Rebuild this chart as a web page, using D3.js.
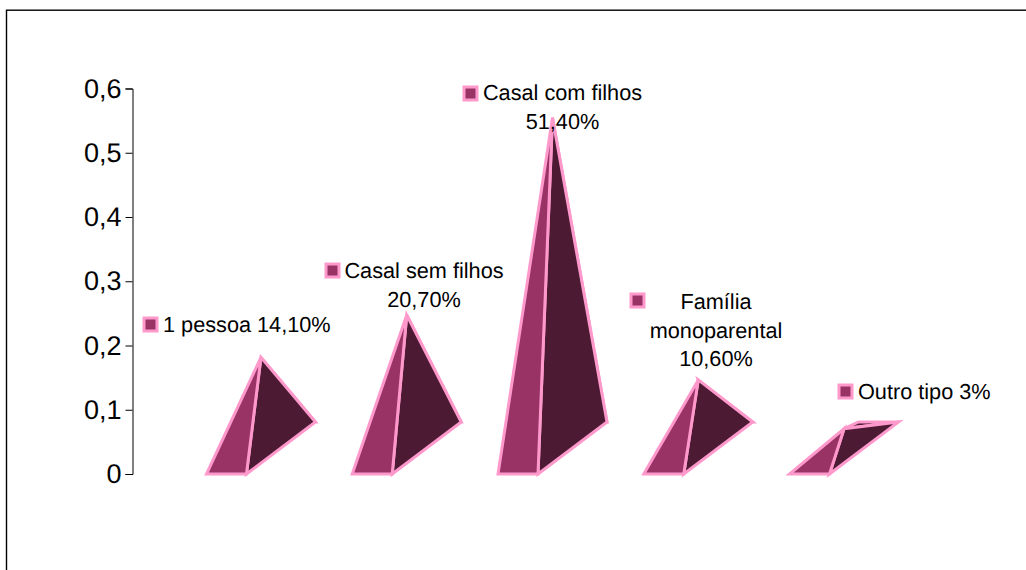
<!DOCTYPE html>
<html>
<head>
<meta charset="utf-8">
<script src="https://cdn.jsdelivr.net/npm/d3@7"></script>
<style>
  html, body { margin: 0; padding: 0; background: #fff; }
  svg { display: block; }
  text { font-family: "Liberation Sans", Arial, sans-serif; fill: #000; text-rendering: geometricPrecision; }
</style>
</head>
<body>
<div id="app"></div>
<script>
const categories = ['1 pessoa', 'Casal sem filhos', 'Casal com filhos', 'Família monoparental', 'Outro tipo'];
const values = [0.141, 0.207, 0.514, 0.106, 0.03];
const tickValues = [0, 0.1, 0.2, 0.3, 0.4, 0.5, 0.6];
const labelLines = [
  ['1 pessoa 14,10%'],
  ['Casal sem filhos', '20,70%'],
  ['Casal com filhos', '51,40%'],
  ['Família', 'monoparental', '10,60%'],
  ['Outro tipo 3%']
];

const pink = '#ff99cc';
const light = '#993366';
const dark = '#4d1a33';

const svg = d3.select('#app').append('svg')
    .attr('width', 1026)
    .attr('height', 570);

// outer frame, bottom and right edges fall off the page
svg.append('rect')
    .attr('x', 6.5)
    .attr('y', 10.2)
    .attr('width', 1030)
    .attr('height', 600)
    .attr('fill', 'none')
    .attr('stroke', '#000')
    .attr('stroke-width', 1.4);

const y = d3.scaleLinear()
    .domain([0, 0.6])
    .range([474, 88.5]);

const x = d3.scaleBand()
    .domain(categories)
    .range([132.5, 903.5])
    .paddingInner(0.7257)
    .paddingOuter(0.5075);

// 3d depth of the base
const depthX = 69;
const depthY = -52;

const g = svg.append('g');

const pyramids = g.selectAll('.pyramid')
    .data(categories.map((c, i) => ({ c, v: values[i] })))
    .enter().append('g')
      .attr('class', 'pyramid')
      .attr('fill', dark)
      .attr('stroke', pink)
      .attr('stroke-width', 3)
      .attr('stroke-linejoin', 'miter');

function corners(d) {
  const x0 = x(d.c);
  const x1 = x0 + x.bandwidth();
  const y0 = y(0);
  const apex = [(x0 + x1) / 2 + depthX / 2, y0 + depthY / 2 - (y(0) - y(d.v))];
  return { x0, x1, y0, apex };
}

const poly = pts => pts.map(p => p.join(',')).join(' ');

// back face, only shows when the apex is lower than the back edge
pyramids.append('polygon')
    .attr('points', d => {
      const k = corners(d);
      return poly([[k.x0 + depthX, k.y0 + depthY], [k.x1 + depthX, k.y0 + depthY], k.apex]);
    });

pyramids.append('polygon')
    .attr('points', d => {
      const k = corners(d);
      return poly([[k.x1, k.y0], [k.x1 + depthX, k.y0 + depthY], k.apex]);
    });

pyramids.append('polygon')
    .attr('fill', light)
    .attr('points', d => {
      const k = corners(d);
      return poly([[k.x0, k.y0], [k.x1, k.y0], k.apex]);
    });

const axis = svg.append('g')
    .attr('transform', 'translate(132.5,0)')
    .call(d3.axisLeft(y)
      .tickValues(tickValues)
      .tickSize(7)
      .tickPadding(4)
      .tickFormat(d => d === 0 ? '0' : String(d).replace('.', ',')));

axis.select('.domain').attr('stroke', '#000').attr('stroke-width', 1);
axis.selectAll('text').attr('font-size', 27).style('font-family', '"Liberation Sans", Arial, sans-serif');

// data labels: key square position, text anchor and first baseline
const labelPos = [
  { key: [150.5, 324.5], tx: 163, ty: 332, anchor: 'start' },
  { key: [332.5, 270.5], tx: 424, ty: 278, anchor: 'middle' },
  { key: [470.5, 93.5], tx: 562.5, ty: 100, anchor: 'middle' },
  { key: [637.5, 300.5], tx: 716, ty: 309, anchor: 'middle' },
  { key: [845.5, 391.5], tx: 858, ty: 399, anchor: 'start' }
];
const lineStep = 28.5;

const labels = svg.selectAll('.label')
    .data(labelLines)
    .enter().append('g')
      .attr('class', 'label');

labels.append('rect')
    .attr('x', (d, i) => labelPos[i].key[0] - 6.5)
    .attr('y', (d, i) => labelPos[i].key[1] - 6.5)
    .attr('width', 13)
    .attr('height', 13)
    .attr('fill', light)
    .attr('stroke', pink)
    .attr('stroke-width', 3);

labels.each(function(lines, i) {
  d3.select(this).selectAll('text')
    .data(lines)
    .enter().append('text')
      .attr('x', labelPos[i].tx)
      .attr('y', (d, j) => labelPos[i].ty + j * lineStep)
      .attr('text-anchor', labelPos[i].anchor)
      .attr('font-size', 21.7)
      .text(d => d);
});
</script>
</body>
</html>
